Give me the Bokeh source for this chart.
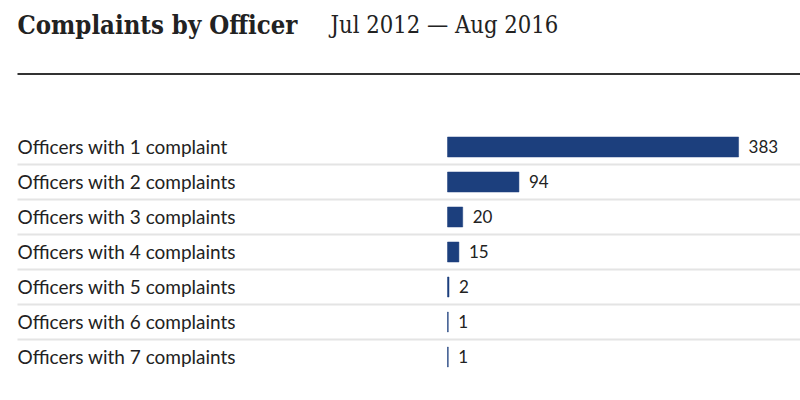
from bokeh.plotting import figure
from bokeh.models import Range1d, Label, ColumnDataSource
from bokeh.core.properties import value
from bokeh.embed import file_html
from bokeh.resources import INLINE

# ---- data ----
title_text = "Complaints by Officer"
subtitle_text = "Jul 2012 \u2014 Aug 2016"
categories = [
    "Officers with 1 complaint",
    "Officers with 2 complaints",
    "Officers with 3 complaints",
    "Officers with 4 complaints",
    "Officers with 5 complaints",
    "Officers with 6 complaints",
    "Officers with 7 complaints",
]
counts = [383, 94, 20, 15, 2, 1, 1]

# ---- layout ----
W, H = 800, 392
ZERO_PX = 447          # x pixel (in figure) of value 0
PX_PER_UNIT = 0.76
ROW0_PX = 146.5        # y pixel (from top) of first row centre
ROW_H = 35
LABEL_PX = 17

x_start = -ZERO_PX / PX_PER_UNIT
x_end = (W - ZERO_PX) / PX_PER_UNIT
y_top = -ROW0_PX / ROW_H
y_bottom = (H - ROW0_PX) / ROW_H

p = figure(width=W, height=H, output_backend="svg", toolbar_location=None,
           x_range=Range1d(x_start, x_end), y_range=Range1d(y_bottom, y_top),
           min_border=0, outline_line_color=None)
p.axis.visible = False
p.grid.visible = False
p.background_fill_color = "white"
p.border_fill_color = "white"

rows = list(range(len(categories)))
label_x = x_start + LABEL_PX / PX_PER_UNIT

# separators between rows
sep_y = [r + 0.5 for r in rows[:-1]]
p.segment(x0=[label_x] * len(sep_y), x1=[x_end] * len(sep_y), y0=sep_y, y1=sep_y,
          line_color="#e4e4e4", line_width=2)

src = ColumnDataSource(dict(y=rows, v=counts, cat=categories,
                            lx=[label_x] * len(rows), vs=[str(c) for c in counts]))

p.hbar(y="y", left=0, right="v", height=20 / ROW_H, source=src,
       fill_color="#1c3f7d", line_color="#1c3f7d", line_width=0.5)

p.text(x="lx", y="y", text="cat", source=src, text_font=value("Lato"),
       text_font_size="19px", text_color="#222222", text_baseline="middle",
       text_align="left", y_offset=-0.5)
p.text(x="v", y="y", text="vs", source=src, x_offset=10, text_font=value("Lato"),
       text_font_size="17px", text_color="#222222", text_baseline="middle",
       text_align="left", y_offset=-0.5)

# heavy rule under the header
rule_y = (73.5 - ROW0_PX) / ROW_H
p.segment(x0=[label_x], x1=[x_end], y0=[rule_y], y1=[rule_y],
          line_color="#333333", line_width=2)

p.add_layout(Label(x=LABEL_PX, y=H - 24, x_units="screen", y_units="screen",
                   text=title_text, text_font="DejaVu Serif Condensed", text_font_style="bold",
                   text_font_size="25.5px", text_color="#222222", text_baseline="alphabetic"))
p.add_layout(Label(x=330, y=H - 24, x_units="screen", y_units="screen",
                   text=subtitle_text, text_font="DejaVu Serif Condensed",
                   text_font_size="23.6px", text_color="#222222", text_baseline="alphabetic"))

open("out.html", "w").write(file_html(p, INLINE))
